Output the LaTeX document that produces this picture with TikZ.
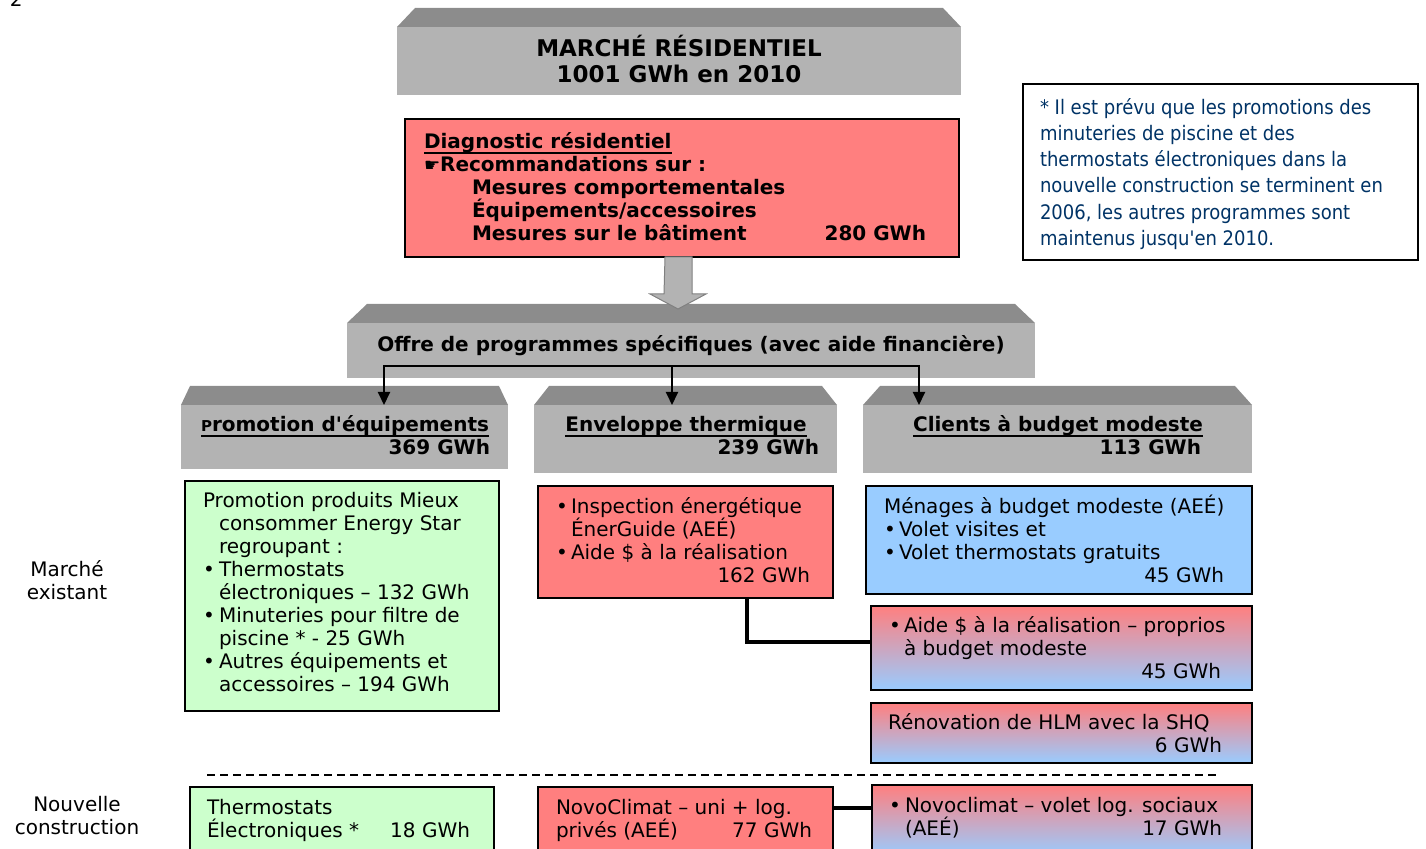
\documentclass[tikz,border=0pt]{standalone}
\usepackage{fontspec}
\setmainfont{DejaVu Sans}
\newfontfamily\notefont{DejaVu Sans Condensed}
\usetikzlibrary{calc,arrows.meta}
\definecolor{gfront}{HTML}{B3B3B3}
\definecolor{gtop}{HTML}{8C8C8C}
\definecolor{rbox}{HTML}{FF7F7F}
\definecolor{gbox}{HTML}{CCFFCC}
\definecolor{bbox}{HTML}{99CCFF}
\definecolor{notec}{HTML}{003366}
\newcommand\myul[1]{\setbox0\hbox{#1}\rlap{\rule[-2.6pt]{\wd0}{0.9pt}}\box0}
\begin{document}
\begin{tikzpicture}[x=0.5pt,y=-0.5pt,
  every node/.style={inner sep=0pt, outer sep=0pt, font=\fontsize{10}{12}\selectfont},
  txt/.style={anchor=base west},
  rtxt/.style={anchor=base east},
  ctxt/.style={anchor=base},
  bold/.style={font=\fontsize{10}{12}\selectfont\bfseries},
  title/.style={font=\fontsize{11.5}{13}\selectfont\bfseries},
  box/.style={draw=black, line width=0.9pt, anchor=north west},
  front/.style={fill=gfront, anchor=north west},
  grad/.style={box, top color=rbox, bottom color=bbox},
  conn/.style={line width=1pt, -{Triangle[width=6pt,length=6.5pt]}},
  link/.style={line width=2pt},
  bigarrow/.style={fill=gfront, draw=gray, line width=0.5pt},
  sep/.style={line width=1pt, dash pattern=on 4pt off 2.5pt},
  notetxt/.style={anchor=base west, text=notec, font=\notefont\fontsize{10}{13}\selectfont}]
\useasboundingbox (0,0) rectangle (1426,849);

% page number
\node[txt] (pg) at (10,7) {2};

% ---------- boxes ----------
\node[front, minimum width=282pt, minimum height=34pt] (top) at (397,27) {};
\node[box, fill=rbox, minimum width=277pt, minimum height=69pt] (diag) at (405,119) {};
\node[front, minimum width=344pt, minimum height=27.5pt] (offre) at (347,323) {};
\node[front, minimum width=163.5pt, minimum height=32pt] (promo) at (181,405) {};
\node[front, minimum width=151.5pt, minimum height=34pt] (env) at (534,405) {};
\node[front, minimum width=194.5pt, minimum height=34pt] (cli) at (863,405) {};
\node[box, fill=gbox, minimum width=157pt, minimum height=115pt] (green) at (185,481) {};
\node[box, fill=rbox, minimum width=147.5pt, minimum height=56pt] (envbox) at (538,486) {};
\node[box, fill=bbox, minimum width=193pt, minimum height=54pt] (blue) at (866,486) {};
\node[grad, minimum width=190.5pt, minimum height=42pt] (aide) at (871,606) {};
\node[grad, minimum width=190.5pt, minimum height=30pt] (hlm) at (871,703) {};
\node[box, fill=gbox, minimum width=152pt, minimum height=36.5pt] (bgreen) at (190,787) {};
\node[box, fill=rbox, minimum width=147.5pt, minimum height=36.5pt] (bred) at (538,787) {};
\node[grad, minimum width=190pt, minimum height=35.5pt] (bgrad) at (872,785) {};
\node[box, fill=white, minimum width=197.5pt, minimum height=88pt] (note) at (1023,84) {};

% top faces of the 3D boxes
\foreach \n/\d in {top/18, offre/20, promo/9, env/15, cli/17}
  \fill[gtop] (\n.north west) -- ++(\d,-19) -- ($(\n.north east)+(-\d,-19)$) -- (\n.north east) -- cycle;

% big grey arrow
\filldraw[bigarrow] ($(diag.south)+(-17,0)$) -- ++(27,0) -- ++(0,37) -- ++(14,0) -- ++(-28,15) -- ++(-28,-15) -- ++(14,0) -- cycle;

% fork arrows
\coordinate (fork) at ($(offre.south)+(-19,-12)$);
\draw[conn] (fork) -| ($(promo.north west)+(203,0)$);
\draw[conn] (fork) -- (fork |- env.north);
\draw[conn] (fork) -| ($(cli.north west)+(56,0)$);

% thick links
\draw[link] ($(envbox.south west)+(209,0)$) |- ($(aide.west)+(0,-6)$);
\draw[link] ($(bred.north east)+(0,21)$) -- ($(bgrad.north west)+(0,23)$);

% separator
\draw[sep] (207,775) -- (1217,775);

% ---------- texts ----------
\node[ctxt, title] (t1) at (679,57) {MARCHÉ RÉSIDENTIEL};
\node[ctxt, title] (t2) at (679,83) {1001 GWh en 2010};

\node[txt, bold] (d1) at (424,149) {\myul{Diagnostic résidentiel}};
\node[txt, bold] (d2) at (424,172) {{\fontsize{9}{10}\selectfont ☛}Recommandations sur :};
\node[txt, bold] (d3) at (472,195) {Mesures comportementales};
\node[txt, bold] (d4) at (472,218) {Équipements/accessoires};
\node[txt, bold] (d5) at (472,241) {Mesures sur le bâtiment};
\node[rtxt, bold] (d6) at (926,241) {280 GWh};

\node[ctxt, bold] (o1) at (691,352) {Offre de programmes spécifiques (avec aide financière)};

\node[rtxt, bold] (p1) at (489,432) {\myul{{\fontsize{7.5}{9}\selectfont P}romotion d\textquotesingle équipements}};
\node[rtxt, bold] (p2) at (490,455) {369 GWh};
\node[ctxt, bold] (e1) at (686,432) {\myul{Enveloppe thermique}};
\node[rtxt, bold] (e2) at (819,455) {239 GWh};
\node[ctxt, bold] (c1) at (1058,432) {\myul{Clients à budget modeste}};
\node[rtxt, bold] (c2) at (1201,455) {113 GWh};

% green box
\node[txt] (g1) at (203,508) {Promotion produits Mieux};
\node[txt] (g2) at (219,531) {consommer Energy Star};
\node[txt] (g3) at (219,554) {regroupant :};
\node[txt] (g4) at (203,577) {\makebox[8pt][l]{•}Thermostats};
\node[txt] (g5) at (219,600) {électroniques – 132 GWh};
\node[txt] (g6) at (203,623) {\makebox[8pt][l]{•}Minuteries pour filtre de};
\node[txt] (g7) at (219,646) {piscine * - 25 GWh};
\node[txt] (g8) at (203,669) {\makebox[8pt][l]{•}Autres équipements et};
\node[txt] (g9) at (219,692) {accessoires – 194 GWh};

% enveloppe red box
\node[txt] (r1) at (556,514) {\makebox[7.5pt][l]{•}Inspection énergétique};
\node[txt] (r2) at (571,537) {ÉnerGuide (AEÉ)};
\node[txt] (r3) at (556,560) {\makebox[7.5pt][l]{•}Aide \$ à la réalisation};
\node[rtxt] (r4) at (810,583) {162 GWh};

% blue box
\node[txt] (b1) at (884,514) {Ménages à budget modeste (AEÉ)};
\node[txt] (b2) at (884,537) {\makebox[7.5pt][l]{•}Volet visites et};
\node[txt] (b3) at (884,560) {\makebox[7.5pt][l]{•}Volet thermostats gratuits};
\node[rtxt] (b4) at (1224,583) {45 GWh};

% aide gradient box
\node[txt] (a1) at (889,633) {\makebox[7.5pt][l]{•}Aide \$ à la réalisation – proprios};
\node[txt] (a2) at (904,656) {à budget modeste};
\node[rtxt] (a3) at (1221,679) {45 GWh};

% HLM box
\node[txt] (h1) at (888,730) {Rénovation de HLM avec la SHQ};
\node[rtxt] (h2) at (1222,753) {6 GWh};

% left labels
\node[ctxt] (l1) at (67,577) {Marché};
\node[ctxt] (l2) at (67,600) {existant};
\node[ctxt] (l3) at (77,812) {Nouvelle};
\node[ctxt] (l4) at (77,835) {construction};

% bottom boxes
\node[txt] (n1) at (207,815) {Thermostats};
\node[txt] (n2) at (207,838) {Électroniques *};
\node[rtxt] (n3) at (470,838) {18 GWh};
\node[txt] (n4) at (556,815) {NovoClimat – uni + log.};
\node[txt] (n5) at (556,838) {privés (AEÉ)};
\node[rtxt] (n6) at (812,838) {77 GWh};
\node[txt] (n7) at (889,813) {\makebox[8pt][l]{•}Novoclimat – volet log. sociaux};
\node[txt] (n8) at (905,836) {(AEÉ)};
\node[rtxt] (n9) at (1222,836) {17 GWh};

% note
\node[notetxt] (k1) at (1040,115) {* Il est prévu que les promotions des};
\node[notetxt] (k2) at (1040,141) {minuteries de piscine et des};
\node[notetxt] (k3) at (1040,167) {thermostats électroniques dans la};
\node[notetxt] (k4) at (1040,193) {nouvelle construction se terminent en};
\node[notetxt] (k5) at (1040,220) {2006, les autres programmes sont};
\node[notetxt] (k6) at (1040,246) {maintenus jusqu\textquotesingle en 2010.};
\end{tikzpicture}
\end{document}
